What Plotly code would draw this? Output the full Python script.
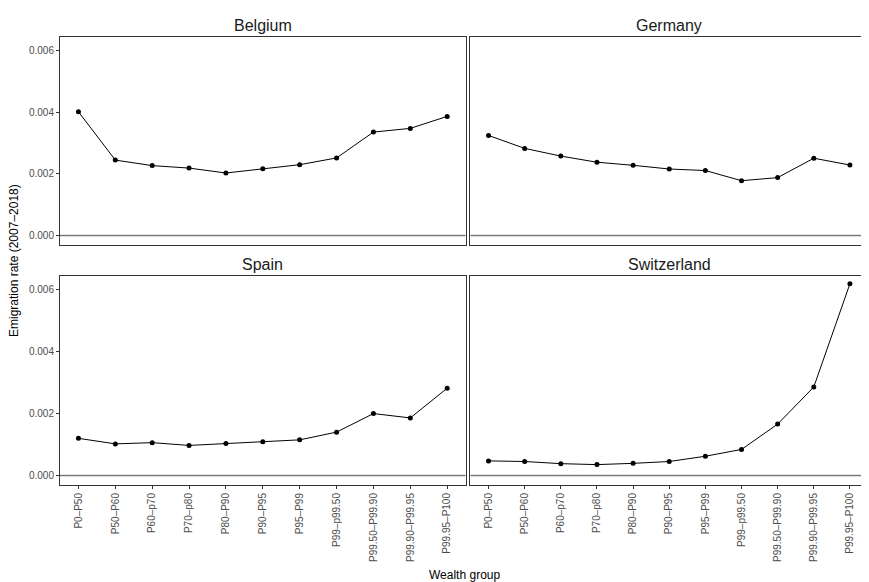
import plotly.graph_objects as go
from plotly.subplots import make_subplots

groups = ["P0\u2013P50", "P50\u2013P60", "P60\u2013p70", "P70\u2013p80", "P80\u2013P90", "P90\u2013P95",
          "P95\u2013P99", "P99\u2013p99.50", "P99.50\u2013P99.90", "P99.90\u2013P99.95", "P99.95\u2013P100"]

belgium = [0.00402, 0.00245, 0.00227, 0.00219, 0.00203, 0.00217, 0.00230, 0.00252, 0.00336, 0.00348, 0.00387]
germany = [0.00325, 0.00283, 0.00258, 0.00238, 0.00228, 0.00216, 0.00211, 0.00178, 0.00188, 0.00251, 0.00229]
spain = [0.00120, 0.00102, 0.00106, 0.00097, 0.00103, 0.00109, 0.00115, 0.00140, 0.00200, 0.00186, 0.00282]
switzerland = [0.00047, 0.00045, 0.00038, 0.00035, 0.00039, 0.00045, 0.00062, 0.00084, 0.00166, 0.00286, 0.00620]

countries = ["Belgium", "Germany", "Spain", "Switzerland"]
series = [belgium, germany, spain, switzerland]
y_ticks = [0.000, 0.002, 0.004, 0.006]
y_ticktext = ["0.000", "0.002", "0.004", "0.006"]

FONT = "Liberation Sans, Arial, Helvetica, sans-serif"

fig = make_subplots(rows=2, cols=2, horizontal_spacing=0.006, vertical_spacing=0.069)

pos = [(1, 1), (1, 2), (2, 1), (2, 2)]
for (r, c), vals in zip(pos, series):
    fig.add_trace(go.Scatter(x=groups, y=vals, mode="lines+markers",
                             line=dict(color="black", width=1),
                             marker=dict(color="black", size=5),
                             showlegend=False, hoverinfo="skip"), row=r, col=c)

idx = ["", "2", "3", "4"]
for i, (r, c) in enumerate(pos):
    xa = "xaxis" + idx[i]
    ya = "yaxis" + idx[i]
    fig.layout[xa].update(range=[-0.5, 10.5], showgrid=False, zeroline=False, automargin=False,
                          showline=True, mirror=True, linecolor="#333333", linewidth=1,
                          ticks="outside" if r == 2 else "", ticklen=3, tickcolor="#333333",
                          showticklabels=(r == 2), tickangle=-90,
                          tickfont=dict(family=FONT, size=10, color="#4d4d4d"))
    fig.layout[ya].update(range=[-0.00031, 0.00645], showgrid=False, zeroline=False, automargin=False,
                          showline=True, mirror=True, linecolor="#333333", linewidth=1,
                          ticks="outside" if c == 1 else "", ticklen=3, tickcolor="#333333",
                          tickvals=y_ticks, ticktext=y_ticktext,
                          showticklabels=(c == 1),
                          tickfont=dict(family=FONT, size=10, color="#4d4d4d"))
    xref = "x" + idx[i]
    fig.add_shape(type="line", xref=xref + " domain", yref="y" + idx[i],
                  x0=0, x1=1, y0=0, y1=0, line=dict(color="#7a7a7a", width=1.5), layer="below")

# domains to match reference
fig.layout.xaxis.domain = [0, 0.502]
fig.layout.xaxis3.domain = [0, 0.502]
fig.layout.xaxis2.domain = [0.508, 1]
fig.layout.xaxis4.domain = [0.508, 1]
fig.layout.yaxis.domain = [0.5357, 1]
fig.layout.yaxis2.domain = [0.5357, 1]
fig.layout.yaxis3.domain = [0, 0.4665]
fig.layout.yaxis4.domain = [0, 0.4665]

annotations = []
strip_pos = [(0.251, 1.0), (0.754, 1.0), (0.251, 0.4665), (0.754, 0.4665)]
for name, (x, y) in zip(countries, strip_pos):
    annotations.append(dict(text=name, x=x, y=y, xref="paper", yref="paper",
                            xanchor="center", yanchor="bottom", yshift=1, showarrow=False,
                            font=dict(family=FONT, size=16, color="#1a1a1a")))
annotations.append(dict(text="Emigration rate (2007\u20132018)", x=0, y=0.5, xref="paper", yref="paper",
                        xshift=-46, textangle=-90, showarrow=False, xanchor="center", yanchor="middle",
                        font=dict(family=FONT, size=12, color="black")))
annotations.append(dict(text="Wealth group", x=0.5, y=0, xref="paper", yref="paper",
                        yshift=-90, showarrow=False, xanchor="center", yanchor="middle",
                        font=dict(family=FONT, size=12, color="black")))

# the page places the figure 8px from the top-left corner, so the figure is 8px smaller
fig.update_layout(width=861, height=574, margin=dict(l=52, r=1, t=29, b=97, autoexpand=False),
                  paper_bgcolor="white", plot_bgcolor="white",
                  annotations=annotations, font=dict(family=FONT))

fig.write_html("out.html")
